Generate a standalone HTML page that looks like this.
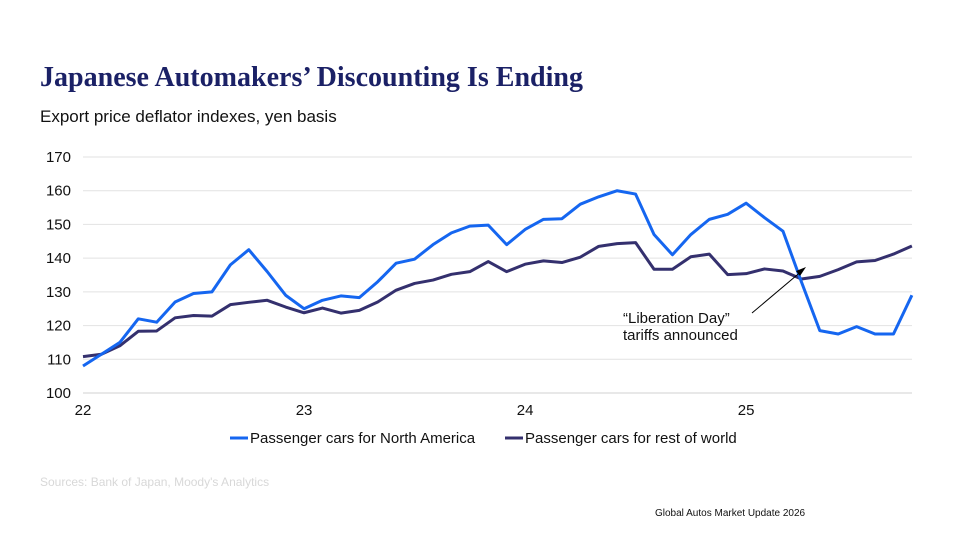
<!DOCTYPE html>
<html><head><meta charset="utf-8"><style>
body{margin:0;width:960px;height:540px;background:#fff;overflow:hidden;font-family:"Liberation Sans",sans-serif;}
svg{position:absolute;left:0;top:0}
</style></head><body>
<svg width="960" height="540">
<text x="40" y="86" font-family="Liberation Serif" font-weight="bold" font-size="28" fill="#1b2166" textLength="543">Japanese Automakers’ Discounting Is Ending</text>
<text x="40" y="122" font-size="17" fill="#111">Export price deflator indexes, yen basis</text>
<g id="grid"></g><g id="yticks"></g><g id="xticks"></g><g id="lines"></g>
<line x1="752" y1="313" x2="803" y2="270" stroke="#000" stroke-width="1"/>
<polygon points="806,267 796,271 800,276" fill="#000"/>
<text x="623" y="323" font-size="15" fill="#111"><tspan x="623">“Liberation Day”</tspan><tspan x="623" dy="17">tariffs announced</tspan></text>
<line x1="230" y1="438" x2="248" y2="438" stroke="#1566f0" stroke-width="3"/>
<text x="250" y="443" font-size="15" fill="#111">Passenger cars for North America</text>
<line x1="505" y1="438" x2="523" y2="438" stroke="#34306e" stroke-width="3"/>
<text x="525" y="443" font-size="15" fill="#111">Passenger cars for rest of world</text>
<text x="40" y="486" font-size="12" fill="#d8d8d8">Sources: Bank of Japan, Moody's Analytics</text>
<text x="655" y="516" font-size="10" fill="#111">Global Autos Market Update 2026</text>
</svg>
<script>
const northAmerica=[108,111.5,115,122,121,127,129.5,130,138,142.5,136,129,125,127.5,128.8,128.3,133,138.5,139.7,144,147.5,149.5,149.8,144,148.5,151.5,151.7,156,158.2,160,159,147,141,147,151.5,153,156.3,152,148,133,118.5,117.5,119.7,117.5,117.5,129];
const restOfWorld=[110.8,111.5,114,118.3,118.4,122.3,123,122.8,126.2,126.9,127.5,125.5,123.8,125.2,123.7,124.5,127,130.5,132.5,133.5,135.2,136,139,136,138.2,139.2,138.7,140.3,143.5,144.3,144.6,136.7,136.7,140.4,141.2,135.1,135.4,136.8,136.2,133.8,134.6,136.6,138.9,139.3,141.2,143.6];
const yTicks=[100,110,120,130,140,150,160,170];
const xTickLabels=["22","23","24","25"];
const xTickMonths=[0,12,24,36];
const X0=83,STEP=18.42,Y0=393,YS=236/70;
const sx=i=>X0+i*STEP, sy=v=>Y0-(v-100)*YS;
const NS="http://www.w3.org/2000/svg";
function mk(t,a,p){const e=document.createElementNS(NS,t);for(const k in a)e.setAttribute(k,a[k]);p.appendChild(e);return e;}
const g=document.getElementById('grid'),yt=document.getElementById('yticks'),xt=document.getElementById('xticks'),ln=document.getElementById('lines');
yTicks.forEach(v=>{
 const l=mk('line',{x1:83,x2:912,y1:sy(v),y2:sy(v),stroke:v===100?'#d0d0d0':'#e2e2e2','stroke-width':1},g);
 
 
 const t=mk('text',{x:71,y:sy(v)+5,'text-anchor':'end','font-size':15,fill:'#111'},yt);t.textContent=v;
 
 
});
xTickLabels.forEach((s,i)=>{
 const t=mk('text',{x:sx(xTickMonths[i]),y:415,'text-anchor':'middle','font-size':15,fill:'#111'},xt);t.textContent=s;
 
 
});
function line(d,c,n){const p=mk('polyline',{points:d.map((v,i)=>sx(i)+','+sy(v)).join(' '),fill:'none',stroke:c,'stroke-width':3,'stroke-linejoin':'round'},ln);
 
 }
line(restOfWorld,'#34306e','line-rest-of-world');
line(northAmerica,'#1566f0','line-north-america');
</script>
</body></html>
